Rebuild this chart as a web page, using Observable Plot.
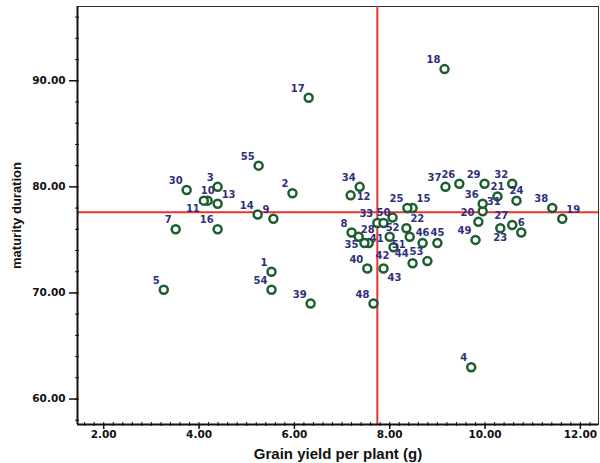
<!DOCTYPE html>
<html><head><meta charset="utf-8">
<script src="https://cdn.jsdelivr.net/npm/d3@7"></script>
<script src="https://cdn.jsdelivr.net/npm/@observablehq/plot@0.6"></script>
<style>body{margin:0;background:#fff}</style>
</head><body><div id="chart"></div>
<script>
// Genotype numbers
const ids = [1,2,3,4,5,6,7,8,9,10,11,12,13,14,15,16,17,18,19,20,21,22,23,24,25,26,27,28,29,30,31,32,33,34,35,36,37,38,39,40,41,42,43,44,45,46,47,48,49,50,51,52,53,54,55];
// Grain yield per plant (g)
const grainYield = [5.52,5.96,4.39,9.71,3.26,10.76,3.51,7.20,5.56,4.18,4.10,7.18,4.39,5.23,8.48,4.39,6.30,9.15,11.62,9.86,10.26,8.35,10.32,10.66,8.37,9.46,10.57,7.56,9.99,3.74,9.95,10.57,7.74,7.37,7.47,9.95,9.17,11.41,6.34,7.53,8.00,8.08,7.87,8.48,9.00,8.69,7.35,7.66,9.80,7.87,8.42,8.06,8.79,5.52,5.25];
// Maturity duration
const maturity = [72.0,79.4,80.0,63.0,70.3,75.7,76.0,75.7,77.0,78.7,78.7,79.2,78.4,77.4,78.0,76.0,88.4,91.1,77.0,76.7,79.1,76.1,76.1,78.7,78.0,80.3,76.4,74.7,80.3,79.7,77.7,80.3,76.6,80.0,74.7,78.4,80.0,78.0,69.0,72.3,75.3,74.3,72.3,72.8,74.7,74.7,75.3,69.0,75.0,76.6,75.3,77.1,73.0,70.3,82.0];
// Reference (mean) lines
const meanYield = [7.74];
const meanMaturity = [77.6];
// Tick values
const xTicks = [2,4,6,8,10,12];
const yTicks = [60,70,80,90];
const xDomain = [1.45, 12.38];
const yDomain = [57.6, 97.0];
// label placement around each point (default nw)
const labelSide = {6:"n",10:"n",11:"sw",12:"e",13:"ne",15:"ne",19:"ne",21:"n",22:"ne",23:"s",24:"n",28:"nn",31:"ne",35:"w",41:"w",42:"sw",43:"se",45:"n",46:"n",50:"n",51:"sw",52:"s",47:"none"};

const data = ids.map((id,i)=>({id, x: grainYield[i], y: maturity[i], side: labelSide[id] || "nw"}));

const sides = {
  nw:{textAnchor:"end",dx:-4,dy:-9},
  n:{textAnchor:"middle",dx:0,dy:-10},
  nn:{textAnchor:"middle",dx:-1,dy:-13},
  ne:{textAnchor:"start",dx:4,dy:-9},
  e:{textAnchor:"start",dx:6,dy:1},
  w:{textAnchor:"end",dx:-6,dy:2},
  sw:{textAnchor:"end",dx:-4,dy:8},
  s:{textAnchor:"middle",dx:0,dy:10},
  se:{textAnchor:"start",dx:4,dy:9}
};

const minorX = d3.range(16, 124, 2).map(d=>d/10);
const minorY = d3.range(58, 97, 2);
const tickFont = {fontFamily:"DejaVu Sans", fontWeight:"bold", fontSize:10.5, color:"#111"};

const textMarks = Object.entries(sides).map(([k,o]) =>
  Plot.text(data.filter(d=>d.side===k), {x:"x", y:"y", text: d=>String(d.id), ...o,
    fill:"#2f2f7c", fontFamily:"DejaVu Sans", fontWeight:"bold", fontSize:10})
);

const chart = Plot.plot({
  width:600, height:463,
  marginLeft:77, marginRight:2, marginTop:6, marginBottom:39,
  x:{domain:xDomain},
  y:{domain:yDomain},
  style:{background:"#fff", color:"#111"},
  marks:[
    Plot.frame({stroke:"#333", strokeWidth:1}),
    Plot.ruleX(meanYield, {stroke:"#e8332e", strokeWidth:2}),
    Plot.ruleY(meanMaturity, {stroke:"#e8332e", strokeWidth:2}),
    Plot.dot(data, {x:"x", y:"y", r:4, stroke:"#1b5e2f", strokeWidth:2.5, fill:"white"}),
    ...textMarks,
    Plot.ruleX([xDomain[0]], {stroke:"#111", strokeWidth:2}),
    Plot.ruleY([yDomain[0]], {stroke:"#111", strokeWidth:2}),
    Plot.axisX({ticks:minorX, tickSize:4, dy:-2, tickFormat:()=>"", label:null, stroke:"#111"}),
    Plot.axisY({ticks:minorY, tickSize:4, dx:2, tickFormat:()=>"", label:null, stroke:"#111"}),
    Plot.axisX({ticks:xTicks, tickSize:5, tickPadding:1, tickFormat:d3.format(".2f"), label:null, strokeWidth:1.5, ...tickFont}),
    Plot.axisY({ticks:yTicks, tickSize:8, tickPadding:4, tickFormat:d3.format(".2f"), label:null, strokeWidth:1.5, ...tickFont}),
    Plot.axisX({ticks:[xTicks[0]], tickSize:0, tickFormat:()=>"", label:"Grain yield per plant (g)", labelAnchor:"center", labelArrow:"none", labelOffset:34,
      fontFamily:"Liberation Sans", fontWeight:"bold", fontSize:15}),
    Plot.axisY({ticks:[yTicks[0]], tickSize:0, tickFormat:()=>"", label:"maturity duration", labelAnchor:"center", labelArrow:"none", labelOffset:66,
      fontFamily:"Liberation Sans", fontWeight:"bold", fontSize:13})
  ]
});
document.getElementById("chart").append(chart);
</script>
</body></html>
